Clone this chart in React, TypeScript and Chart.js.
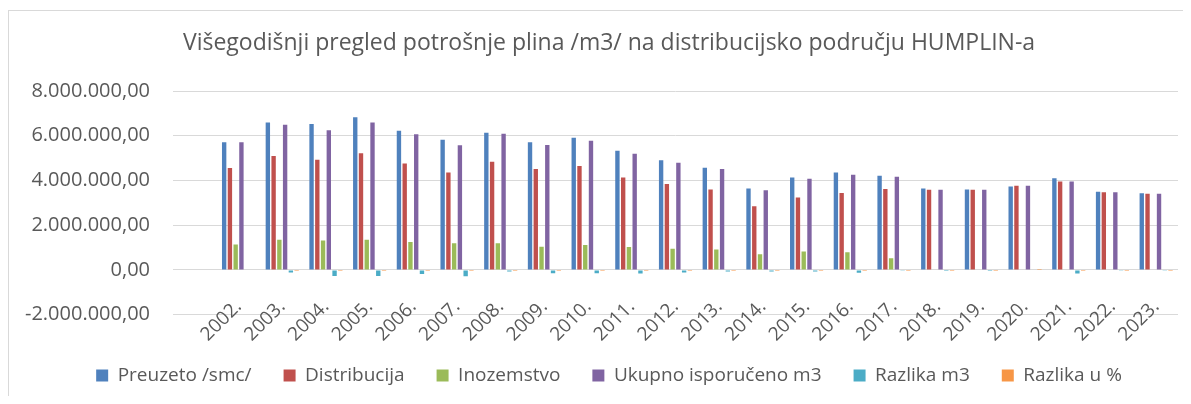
import React, { useEffect, useRef } from "react";
import { Chart, registerables } from "chart.js";

Chart.register(...registerables);

const categories = ["", "2002.", "2003.", "2004.", "2005.", "2006.", "2007.", "2008.", "2009.", "2010.", "2011.", "2012.", "2013.", "2014.", "2015.", "2016.", "2017.", "2018.", "2019.", "2020.", "2021.", "2022.", "2023."];

const preuzeto = [null, 5710000, 6590000, 6520000, 6830000, 6220000, 5820000, 6130000, 5710000, 5910000, 5330000, 4900000, 4570000, 3640000, 4130000, 4350000, 4210000, 3640000, 3590000, 3730000, 4100000, 3490000, 3430000];
const distribucija = [null, 4560000, 5090000, 4930000, 5220000, 4760000, 4350000, 4840000, 4510000, 4650000, 4130000, 3840000, 3590000, 2850000, 3240000, 3440000, 3620000, 3580000, 3580000, 3760000, 3950000, 3470000, 3410000];
const inozemstvo = [null, 1130000, 1350000, 1310000, 1350000, 1250000, 1190000, 1190000, 1040000, 1110000, 1020000, 950000, 910000, 700000, 820000, 790000, 520000, 0, 0, 0, 0, 0, 0];
const ukupno = [null, 5710000, 6490000, 6250000, 6590000, 6070000, 5570000, 6090000, 5580000, 5770000, 5190000, 4790000, 4510000, 3560000, 4080000, 4260000, 4160000, 3580000, 3580000, 3760000, 3950000, 3470000, 3410000];
const razlikaM3 = [null, 0, -120000, -270000, -270000, -180000, -280000, -70000, -150000, -150000, -160000, -120000, -70000, -70000, -70000, -130000, -40000, -50000, -10000, 0, -160000, -20000, -20000];
const razlikaPosto = [null, 0, -1.5, -4.1, -3.5, -2.4, -4.3, -0.7, -2.3, -2.4, -2.6, -2.3, -1.3, -2.2, -1.2, -2.1, -1.2, -1.6, -0.3, 0.8, -3.7, -0.6, -0.6];

const seriesNames = ["Preuzeto /smc/", "Distribucija", "Inozemstvo", "Ukupno isporučeno m3", "Razlika m3", "Razlika u %"];
const seriesColors = ["#4F81BD", "#C0504D", "#9BBB59", "#8064A2", "#4BACC6", "#F79646"];
const yTicks = { min: -2000000, max: 8000000, step: 2000000 };

const titleText = "Višegodišnji pregled potrošnje plina /m3/ na distribucijsko području HUMPLIN-a";

function fmt(v: number): string {
  const neg = v < 0;
  const s = Math.abs(Math.round(v)).toString().replace(/\B(?=(\d{3})+(?!\d))/g, ".");
  return (neg ? "-" : "") + s + ",00";
}

export default function App() {
  const ref = useRef<HTMLCanvasElement | null>(null);
  useEffect(() => {
    if (!ref.current) return;
    const font = "'Open Sans', sans-serif";
    const all = [preuzeto, distribucija, inozemstvo, ukupno, razlikaM3, razlikaPosto];
    const chart = new Chart(ref.current, {
      type: "bar",
      data: {
        labels: categories,
        datasets: all.map((d, i) => ({
          label: seriesNames[i],
          data: d,
          backgroundColor: seriesColors[i],
          borderWidth: 0,
          categoryPercentage: 0.79,
          barPercentage: 0.76,
          yAxisID: "y",
        })),
      },
      options: {
        responsive: false,
        animation: false,
        devicePixelRatio: 1,
        layout: { padding: { top: 0, left: 0, right: 0, bottom: 26 } },
        plugins: {
          tooltip: { enabled: false },
          title: {
            display: true,
            text: titleText,
            color: "#595959",
            font: { family: font, size: 23, weight: "normal", lineHeight: 1.2 },
            padding: { top: 18.2, bottom: 34.2 },
          },
          legend: {
            position: "bottom",
            labels: {
              boxWidth: 12,
              boxHeight: 12,
              padding: 32,
              color: "#595959",
              font: { family: font, size: 19 },
            },
          },
        },
        scales: {
          x: {
            grid: { display: false, drawTicks: false },
            border: { display: false },
            ticks: {
              autoSkip: false,
              minRotation: 45,
              maxRotation: 45,
              padding: -19,
              color: "#595959",
              font: { family: font, size: 19 },
            },
            afterFit: (s: any) => {
              s.height = 19.4;
              s._computeLabelArea = () => undefined;
            },
          },
          y: {
            position: "left",
            min: yTicks.min,
            max: yTicks.max,
            grid: { color: "#d9d9d9", lineWidth: 1, drawTicks: false },
            border: { display: false },
            ticks: {
              stepSize: yTicks.step,
              padding: 23,
              color: "#595959",
              font: { family: font, size: 20 },
              callback: (v: any) => fmt(Number(v)),
            },
            afterFit: (s: any) => {
              s.width = 164;
            },
          },
          yRight: {
            position: "right",
            min: yTicks.min,
            max: yTicks.max,
            grid: { display: false, drawTicks: false },
            border: { display: false },
            ticks: { display: false },
            afterFit: (s: any) => {
              s.width = 31;
            },
          },
        },
      },
    } as any);
    return () => chart.destroy();
  }, []);
  return (
    <div style={{ width: 1175, height: 388, overflow: "hidden" }}>
      <div
        style={{
          marginTop: 2,
          borderLeft: "1px solid #d9d9d9",
          borderTop: "1px solid #d9d9d9",
          width: 1200,
          height: 410,
        }}
      >
        <canvas ref={ref} width={1200} height={410} style={{ display: "block", width: 1200, height: 410 }} />
      </div>
    </div>
  );
}
